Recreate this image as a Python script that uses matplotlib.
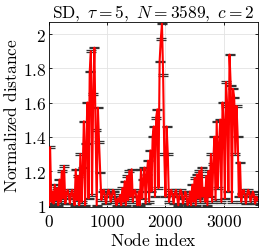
import numpy as np
import matplotlib
matplotlib.use('Agg')
import matplotlib.pyplot as plt

plt.rcParams['mathtext.fontset'] = 'cm'
plt.rcParams['font.family'] = 'serif'
plt.rcParams['font.serif'] = ['DejaVu Serif']

# node indices (sampled every 20 nodes) and normalized distance values
nodes = np.arange(0, 3590, 20)

period1 = [1.00, 1.34, 1.02, 1.08, 1.01, 1.12, 1.03, 1.10, 1.00, 1.15,
           1.02, 1.20, 1.04, 1.23, 1.01, 1.06, 1.09, 1.06, 1.01, 1.07,
           1.09, 1.04, 1.00, 1.21, 1.03, 1.17, 1.00, 1.30, 1.02, 1.22,
           1.49, 1.00, 1.36, 1.60, 1.04, 1.78, 1.90, 1.06, 1.65, 1.92,
           1.44, 1.00, 1.57, 1.37, 1.19, 1.03, 1.08, 1.09, 1.05, 1.01,
           1.06, 1.09, 1.07, 1.02, 1.05, 1.09, 1.08, 1.03, 1.00, 1.04]
period2 = [1.02, 1.06, 1.00, 1.10, 1.02, 1.14, 1.00, 1.17, 1.03, 1.20,
           1.05, 1.21, 1.02, 1.08, 1.09, 1.05, 1.00, 1.08, 1.00, 1.21,
           1.04, 1.15, 1.22, 1.01, 1.18, 1.26, 1.02, 1.32, 1.08, 1.40,
           1.46, 1.05, 1.51, 1.56, 1.10, 1.84, 1.97, 2.06, 1.76, 1.30,
           1.05, 1.46, 1.30, 1.02, 1.06, 1.09, 1.06, 1.01, 1.07, 1.09,
           1.05, 1.00, 1.06, 1.09, 1.07, 1.01, 1.04, 1.08, 1.06, 1.00]
period3 = [1.02, 1.08, 1.00, 1.12, 1.02, 1.16, 1.00, 1.18, 1.04, 1.20,
           1.02, 1.22, 1.05, 1.10, 1.02, 1.17, 1.00, 1.20, 1.05, 1.30,
           1.02, 1.24, 1.40, 1.03, 1.49, 1.10, 1.35, 1.50, 1.02, 1.60,
           1.48, 1.04, 1.72, 1.58, 1.08, 1.88, 1.70, 1.02, 1.68, 1.63,
           1.30, 1.58, 1.40, 1.05, 1.25, 1.02, 1.07, 1.09, 1.06, 1.01,
           1.06, 1.09, 1.07, 1.02, 1.05, 1.08, 1.06, 1.01, 1.05, 1.03]
values = np.array(period1 + period2 + period3)
spread = 0.004

fig = plt.figure(figsize=(2.66, 2.53), dpi=100)
ax = fig.add_axes([0.184, 0.178, 0.786, 0.731])

ax.errorbar(nodes, values, yerr=spread, fmt='none', ecolor='#333333',
            elinewidth=0.8, capsize=3.6, capthick=0.9, zorder=2)
ax.plot(nodes, values, color='r', linewidth=1.5, zorder=3)

ax.set_xlim(0, 3589)
ax.set_ylim(0.99, 2.07)
ax.set_xticks([0, 1000, 2000, 3000])
ax.set_xticklabels(['$0$', '$1000$', '$2000$', '$3000$'])
ax.set_yticks([1, 1.2, 1.4, 1.6, 1.8, 2])
ax.set_yticklabels(['$1$', '$1.2$', '$1.4$', '$1.6$', '$1.8$', '$2$'])
ax.tick_params(direction='in', top=True, right=True, labelsize=12.5,
               length=2.5, width=0.6, pad=2)
ax.tick_params(axis='x', pad=4)
ax.grid(True, color='#e3e3e3', linewidth=0.6, zorder=0)
ax.set_axisbelow(True)
for s in ax.spines.values():
    s.set_linewidth(0.6)

ax.set_xlabel(r'$\mathrm{Node\ index}$', fontsize=12.5, labelpad=1.5)
ax.set_ylabel(r'$\mathrm{Normalized\ distance}$', fontsize=12.5, labelpad=1)
ax.set_title(r'$\mathrm{SD},\ \tau=5,\ N=3589,\ c=2$', fontsize=12.5, pad=3)

fig.savefig('out.png', dpi=100)
